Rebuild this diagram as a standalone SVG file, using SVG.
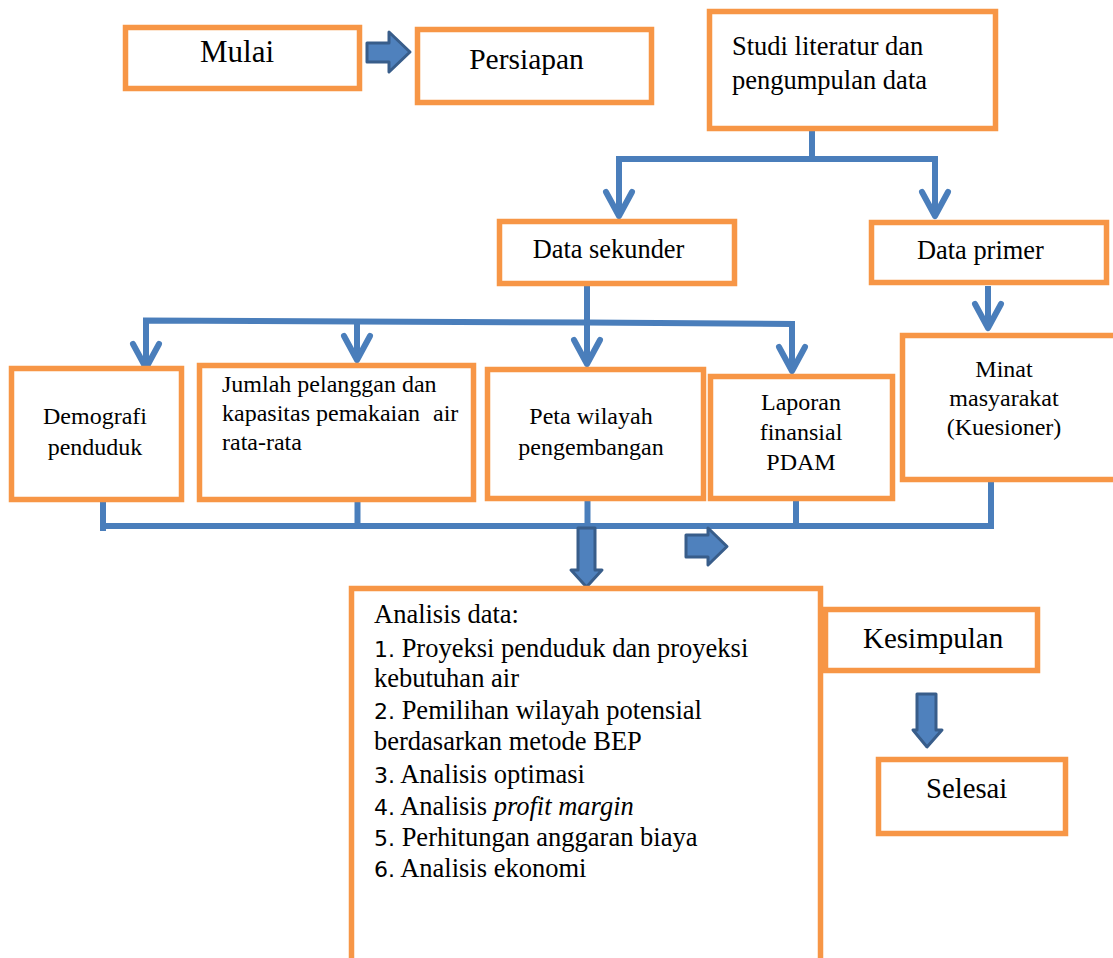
<svg xmlns="http://www.w3.org/2000/svg" width="1113" height="958" viewBox="0 0 1113 958">
<style>
.box{fill:#FFFFFF;stroke:#F79646;stroke-width:5.5}
.t{font-family:"Liberation Serif","Times New Roman",serif;fill:#000}
.c{text-anchor:middle}
.num{font-family:"DejaVu Sans",sans-serif;font-size:22px}
.ln{fill:none;stroke:#4A7EBB;stroke-width:6;stroke-linejoin:miter;stroke-linecap:butt}
.blk{fill:#4F81BD;stroke:#385D8A;stroke-width:3;stroke-linejoin:round}
</style>
<defs>
<marker id="v" markerUnits="userSpaceOnUse" orient="auto" refX="0" refY="0" markerWidth="40" markerHeight="40" viewBox="-30 -20 40 40" overflow="visible">
<path d="M-24,-13 L0,0 L-24,13" fill="none" stroke="#4A7EBB" stroke-width="6" stroke-linecap="round" stroke-linejoin="round"/>
</marker>
</defs>
<rect width="1113" height="958" fill="#FFFFFF"/>

<g id="connectors">
<path class="ln" d="M812,131 V159 H619 V216" marker-end="url(#v)"/>
<path class="ln" d="M812,159 H935 V216" marker-end="url(#v)"/>
<path class="ln" d="M587,286 V364" marker-end="url(#v)"/>
<path class="ln" d="M587,322.5 L146,320.5 V368" marker-end="url(#v)"/>
<path class="ln" d="M357,321.5 V360" marker-end="url(#v)"/>
<path class="ln" d="M587,322.5 L792,324 V371" marker-end="url(#v)"/>
<path class="ln" d="M988,286 V328" marker-end="url(#v)"/>
<path class="ln" d="M103,502 V531"/>
<path class="ln" d="M100,526 H994"/>
<path class="ln" d="M357.5,500 V526"/>
<path class="ln" d="M587.5,500 V528"/>
<path class="ln" d="M796,500 V526"/>
<path class="ln" d="M991,482 V529"/>
</g>

<g id="block-arrows">
<polygon class="blk" points="367,43 389,43 389,32 410,52 389,72 389,62 367,62"/>
<polygon class="blk" points="578,528 595,528 595,570 602,570 586.5,587 571,570 578,570"/>
<polygon class="blk" points="686,535 708,535 708,528 727,546.5 708,565 708,557 686,557"/>
<polygon class="blk" points="917,694 936,694 936,730 942,730 927,747 913,730 917,730"/>
</g>

<g id="mulai">
<rect class="box" x="125.5" y="27.5" width="234" height="61"/>
<text class="t c" x="237" y="62" font-size="31">Mulai</text>
</g>
<g id="persiapan">
<rect class="box" x="417.5" y="29.5" width="234" height="73"/>
<text class="t c" x="526.5" y="69" font-size="29.5">Persiapan</text>
</g>
<g id="studi">
<rect class="box" x="709.5" y="11.5" width="286" height="117"/>
<text class="t" x="732" y="55" font-size="26.5">Studi literatur dan</text>
<text class="t" x="732" y="89" font-size="26.5">pengumpulan data</text>
</g>
<g id="data-sekunder">
<rect class="box" x="499.5" y="221.5" width="235" height="62"/>
<text class="t" x="532.7" y="258" font-size="26.4">Data sekunder</text>
</g>
<g id="data-primer">
<rect class="box" x="871.5" y="222.5" width="235" height="60"/>
<text class="t" x="917" y="259" font-size="26.4">Data primer</text>
</g>
<g id="demografi">
<rect class="box" x="11.5" y="368.5" width="170" height="131"/>
<text class="t c" x="95" y="424" font-size="24">Demografi</text>
<text class="t c" x="95" y="455" font-size="24">penduduk</text>
</g>
<g id="jumlah">
<rect class="box" x="199.5" y="365.5" width="274" height="134"/>
<text class="t" x="222" y="392" font-size="24">Jumlah pelanggan dan</text>
<text class="t" x="222" y="421" font-size="24">kapasitas pemakaian <tspan x="433">air</tspan></text>
<text class="t" x="222" y="450" font-size="24">rata-rata</text>
</g>
<g id="peta">
<rect class="box" x="487.5" y="369.5" width="216" height="129"/>
<text class="t c" x="591" y="424" font-size="24">Peta wilayah</text>
<text class="t c" x="591" y="455" font-size="24">pengembangan</text>
</g>
<g id="laporan">
<rect class="box" x="710.5" y="376.5" width="182" height="122"/>
<text class="t c" x="801" y="410" font-size="24">Laporan</text>
<text class="t c" x="801" y="440" font-size="24">finansial</text>
<text class="t c" x="801" y="470" font-size="24">PDAM</text>
</g>
<g id="minat">
<rect class="box" x="902.5" y="335.5" width="230" height="144"/>
<text class="t c" x="1004" y="377" font-size="24">Minat</text>
<text class="t c" x="1004" y="406" font-size="24">masyarakat</text>
<text class="t c" x="1004" y="435" font-size="24">(Kuesioner)</text>
</g>
<g id="analisis">
<rect class="box" x="351.5" y="588.5" width="469" height="400"/>
<text class="t" x="374" y="623" font-size="26.5">Analisis data:</text>
<text class="t" x="374" y="657" font-size="26.5"><tspan class="num">1.</tspan> Proyeksi penduduk dan proyeksi</text>
<text class="t" x="374" y="687" font-size="26.5">kebutuhan air</text>
<text class="t" x="374" y="719" font-size="26.5"><tspan class="num">2.</tspan> Pemilihan wilayah potensial</text>
<text class="t" x="374" y="750" font-size="26.5">berdasarkan metode BEP</text>
<text class="t" x="374" y="783" font-size="26.5"><tspan class="num">3.</tspan> Analisis optimasi</text>
<text class="t" x="374" y="815" font-size="26.5"><tspan class="num">4.</tspan> Analisis <tspan font-style="italic">profit margin</tspan></text>
<text class="t" x="374" y="846" font-size="26.5"><tspan class="num">5.</tspan> Perhitungan anggaran biaya</text>
<text class="t" x="374" y="877" font-size="26.5"><tspan class="num">6.</tspan> Analisis ekonomi</text>
</g>
<g id="kesimpulan">
<rect class="box" x="825.5" y="609.5" width="212" height="61"/>
<text class="t" x="863" y="648" font-size="29">Kesimpulan</text>
</g>
<g id="selesai">
<rect class="box" x="878.5" y="759.5" width="187" height="74"/>
<text class="t" x="926" y="798" font-size="28.7">Selesai</text>
</g>
</svg>
